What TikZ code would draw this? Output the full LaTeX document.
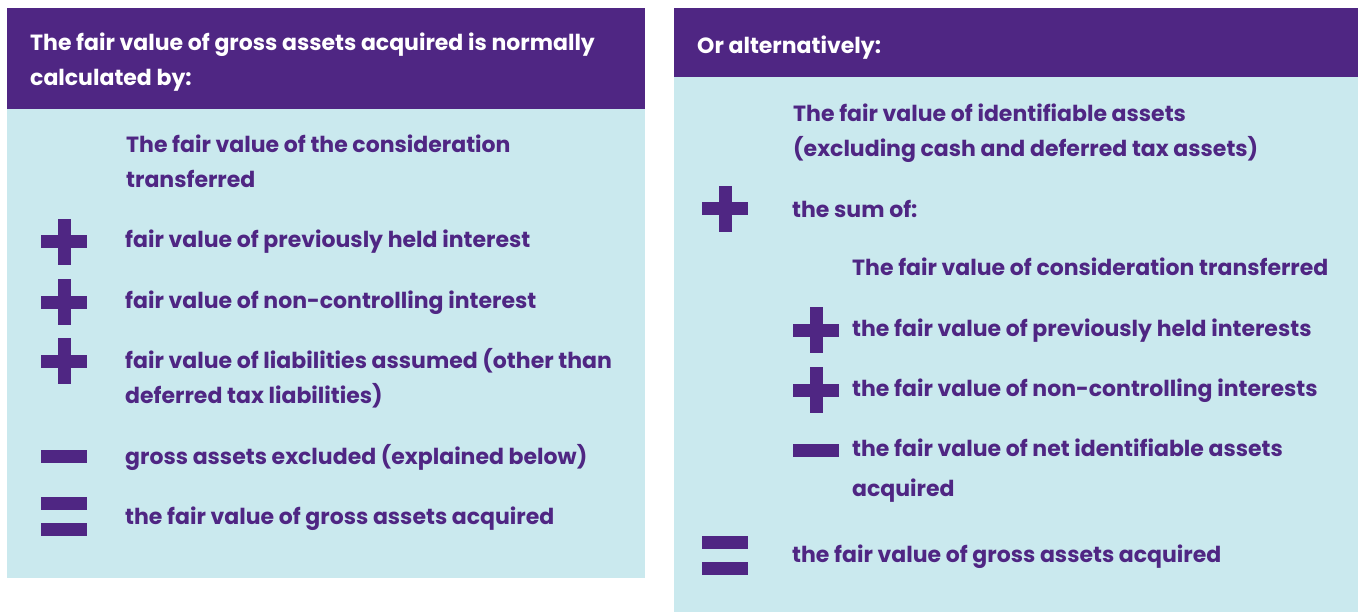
\documentclass[tikz,border=0pt]{standalone}
\usepackage{fontspec}
\setmainfont{Poppins}
\definecolor{purp}{HTML}{4F2683}
\definecolor{lblue}{HTML}{CAE9EE}
\begin{document}
\begin{tikzpicture}[x=1pt,y=-1pt,
  txt/.style={anchor=base west,inner sep=0pt,text=purp,font=\fontsize{22}{35}\selectfont\bfseries,align=left},
  htxt/.style={txt,text=white},
  plussign/.pic={\fill[purp] (-23,-6.5) rectangle (23,6.5); \fill[purp] (-6.5,-23) rectangle (6.5,23);},
  minussign/.pic={\fill[purp] (-23,-6.5) rectangle (23,6.5);},
  equalsign/.pic={\fill[purp] (-23,-19.5) rectangle (23,-6.5); \fill[purp] (-23,6.5) rectangle (23,19.5);}]
\useasboundingbox (0,0) rectangle (1362,612);
\fill[white] (0,0) rectangle (1362,612);
% left panel
\fill[lblue] (7,109) rectangle (645,578);
\fill[purp] (7,8) rectangle (645,109);
\node[htxt] (lh) at (30,86) {The fair value of gross assets acquired is normally\\calculated by:};
\node[txt] (l0) at (126,188) {The fair value of the consideration\\transferred};
\pic at (64,242) {plussign};
\node[txt] (l1) at (125,248) {fair value of previously held interest};
\pic at (64,302) {plussign};
\node[txt] (l2) at (125,308) {fair value of non-controlling interest};
\pic at (64,361) {plussign};
\node[txt] (l3) at (125,403) {fair value of liabilities assumed (other than\\deferred tax liabilities)};
\pic at (64,456) {minussign};
\node[txt] (l4) at (125,464) {gross assets excluded (explained below)};
\pic at (64,516) {equalsign};
\node[txt] (l5) at (125,524) {the fair value of gross assets acquired};
% right panel
\fill[lblue] (674,77) rectangle (1358,612);
\fill[purp] (674,8) rectangle (1358,77);
\node[htxt] (rh) at (697,54) {Or alternatively:};
\node[txt] (r0) at (793,157) {The fair value of identifiable assets\\(excluding cash and deferred tax assets)};
\pic at (725,209) {plussign};
\node[txt] (r1) at (792,218) {the sum of:};
\node[txt] (r2) at (852,276) {The fair value of consideration transferred};
\pic at (816,330) {plussign};
\node[txt] (r3) at (852,336) {the fair value of previously held interests};
\pic at (816,390) {plussign};
\node[txt] (r4) at (852,396) {the fair value of non-controlling interests};
\pic at (816,450) {minussign};
\node[txt] (r5) at (852,496) {the fair value of net identifiable assets\\[5pt]acquired};
\pic at (725,555) {equalsign};
\node[txt] (r6) at (792,562) {the fair value of gross assets acquired};
\end{tikzpicture}
\end{document}
